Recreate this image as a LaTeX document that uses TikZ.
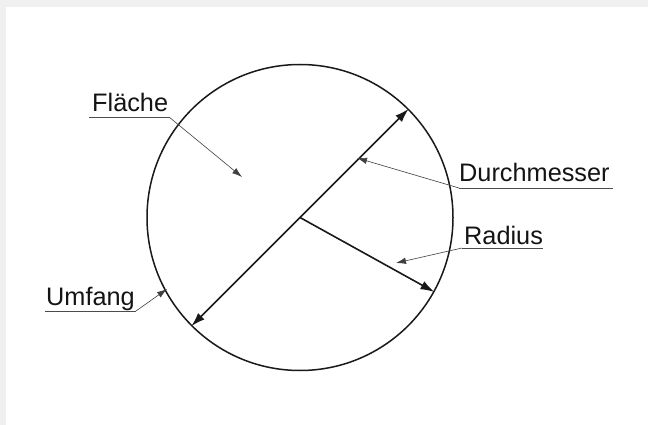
\documentclass[tikz,border=0pt]{standalone}
\usepackage{fontspec}
\setmainfont{Liberation Sans}
\usetikzlibrary{arrows.meta}
\begin{document}
\begin{tikzpicture}[x=1pt,y=-1pt,
  lbl/.style={font=\fontsize{25.3}{29}\selectfont, inner sep=0pt, anchor=base west, text=black!92},
  mainline/.style={line width=1.6pt, black!90},
  bigtip/.style={{Latex[length=14pt,width=9pt]}-{Latex[length=14pt,width=9pt]}},
  onetip/.style={-{Latex[length=14pt,width=9pt]}},
  leader/.style={line width=0.6pt, black!75, -{Latex[length=10pt,width=6.5pt]}},
  uline/.style={line width=0.9pt, black!70}]
\fill[black!6] (0,0) rectangle (648,425);
\fill[white] (6,7) rectangle (648,425);
\useasboundingbox (0,0) rectangle (648,425);
\node[draw, circle, line width=1.5pt, black!90, minimum size=306pt, inner sep=0pt] (circ) at (300,217.5) {};
\coordinate (m) at (circ.center);
% diameter and radius
\draw[mainline, bigtip] (circ.225) -- (circ.45);
\draw[mainline, onetip] (m) -- (circ.-29.5);
% Flaeche
\coordinate (f1) at (89,117);
\coordinate (f2) at (169,117);
\coordinate (ft) at (242,177);
\node[lbl] (fl) at (92,112) {Fläche};
\draw[uline] (f1) -- (f2);
\draw[leader] (f2) -- (ft);
% Durchmesser
\coordinate (d1) at (459,188);
\coordinate (d2) at (613,188);
\coordinate (dt) at (357,158);
\node[lbl] (dl) at (459,182) {Durchmesser};
\draw[uline] (d1) -- (d2);
\draw[leader] (d1) -- (dt);
% Radius
\coordinate (r1) at (462,248);
\coordinate (r2) at (543,248);
\coordinate (rt) at (396,263);
\node[lbl] (rl) at (464,244) {Radius};
\draw[uline] (r1) -- (r2);
\draw[leader] (r1) -- (rt);
% Umfang
\coordinate (u1) at (45,311);
\coordinate (u2) at (136,311);
\coordinate (ut) at (167,289);
\node[lbl] (ul) at (46,305) {Umfang};
\draw[uline] (u1) -- (u2);
\draw[leader] (u2) -- (ut);
\end{tikzpicture}
\end{document}
